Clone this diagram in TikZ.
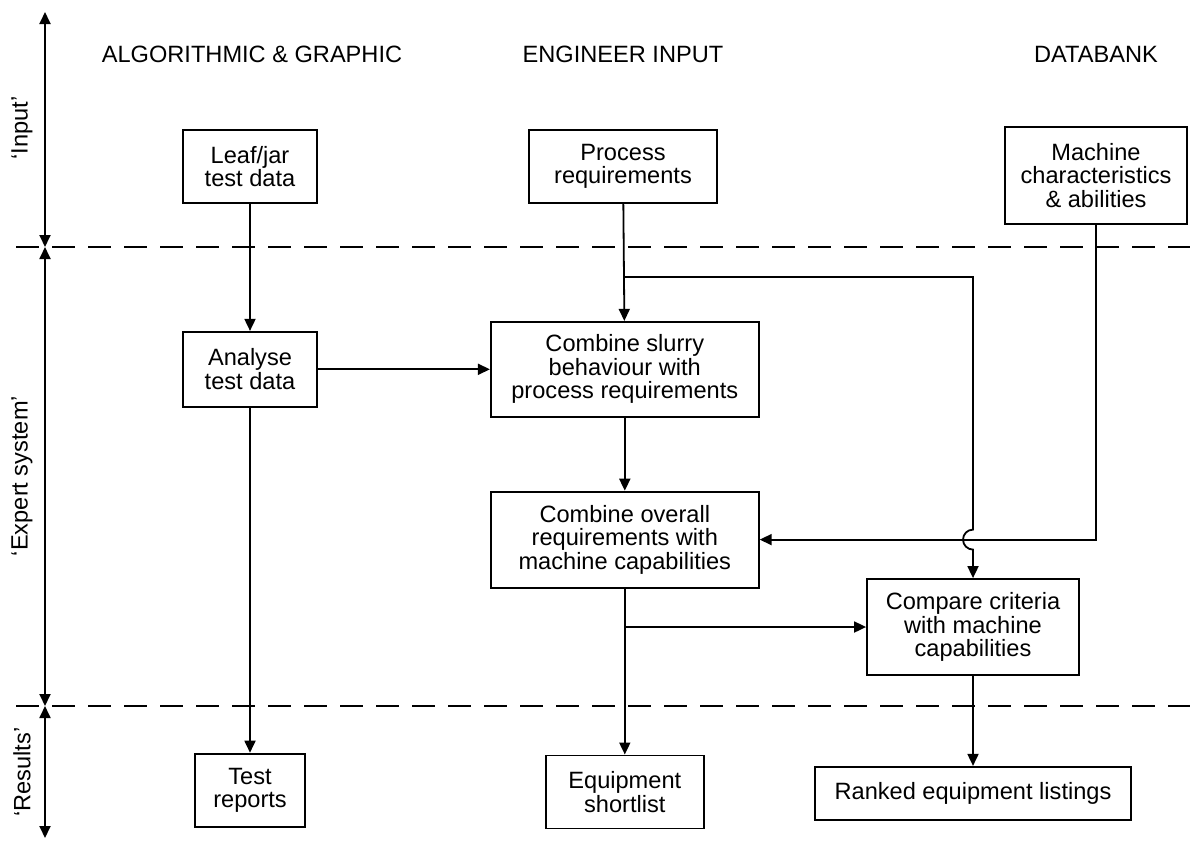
\documentclass[tikz,border=0pt]{standalone}
\usepackage{fontspec}
\setmainfont{Liberation Sans}
\usetikzlibrary{positioning,arrows.meta,calc}

\begin{document}
\begin{tikzpicture}[x=1pt, y=-1pt, >={Triangle[length=12pt,width=11pt]},
  line width=1.8pt, font=\fontsize{23.6pt}{23.5pt}\selectfont,
  blk/.style={draw,align=center,inner sep=0pt},
  sep/.style={dash pattern=on 23pt off 13pt}]
  \useasboundingbox (0,0) rectangle (1190,844);
  % column headings
  \node (halg) at (252,54) {ALGORITHMIC \& GRAPHIC};
  \node (heng) at (623,54) {ENGINEER INPUT};
  \node (hdb) at (1096,54) {DATABANK};
  % stage separators and side axis
  \draw[sep] (16,247) -- (1190,247);
  \draw[sep] (16,706) -- (1190,706);
  \coordinate (a0) at (45,12);  \coordinate (a1) at (45,247);
  \coordinate (a2) at (45,706); \coordinate (a3) at (45,838);
  \draw[<->] (a0) -- (a1); \draw[<->] (a1) -- (a2); \draw[<->] (a2) -- (a3);
  \node[rotate=90] (lin) at (22,128) {‘Input’};
  \node[rotate=90] (lexp) at (22,476) {‘Expert system’};
  \node[rotate=90] (lres) at (22,772) {‘Results’};
  % input row
  \node[blk,minimum width=134pt,minimum height=73pt] (leaf) at (250,166.5) {Leaf/jar\\test data};
  \node[blk,minimum width=188pt,minimum height=73pt] (proc) at (623,166.5) {Process\\requirements};
  \node[blk,minimum width=182pt,minimum height=97pt] (mach) at (1096,175.5) {Machine\\characteristics\\\& abilities};
  % expert system
  \node[blk,minimum width=134pt,minimum height=75pt,below=127pt of leaf] (anl) {Analyse\\test data};
  \node[blk,minimum width=268pt,minimum height=95pt,right=172pt of anl] (slurry) {Combine slurry\\behaviour with\\process requirements};
  \node[blk,minimum width=268pt,minimum height=96pt,below=73pt of slurry] (overall) {Combine overall\\requirements with\\machine capabilities};
  \node[blk,minimum width=212pt,minimum height=96pt] (cmp) at (973,627) {Compare criteria\\with machine\\capabilities};
  % results
  \node[blk,minimum width=110pt,minimum height=73pt,below=345pt of anl] (rep) {Test\\reports};
  \node[blk,minimum width=158pt,minimum height=73pt,below=166pt of overall] (short) {Equipment\\shortlist};
  \node[blk,minimum width=316pt,minimum height=53pt,below=90pt of cmp] (rank) {Ranked equipment listings};
  % flows
  \draw[->] (leaf) -- (anl);
  \draw[->] (anl) -- (rep);
  \draw[->] (anl) -- (slurry);
  \draw[->] (proc) -- (slurry);
  \draw[->] (slurry) -- (overall);
  \draw[->] (overall) -- (short);
  \draw[->] (cmp) -- (rank);
  \draw[->] (mach.south) |- (overall.east);
  \coordinate (br1) at (623,277);                 % process req. tapped off
  \coordinate (hop) at (cmp.north |- overall.east); % crossing with databank line
  \draw[->] (br1) -| ($(hop)+(0,10pt)$) arc[start angle=90,end angle=270,radius=10pt] -- (cmp.north);
  \coordinate (br2) at (overall.south |- cmp.west);
  \draw[->] (br2) -- (cmp.west);
\end{tikzpicture}
\end{document}
